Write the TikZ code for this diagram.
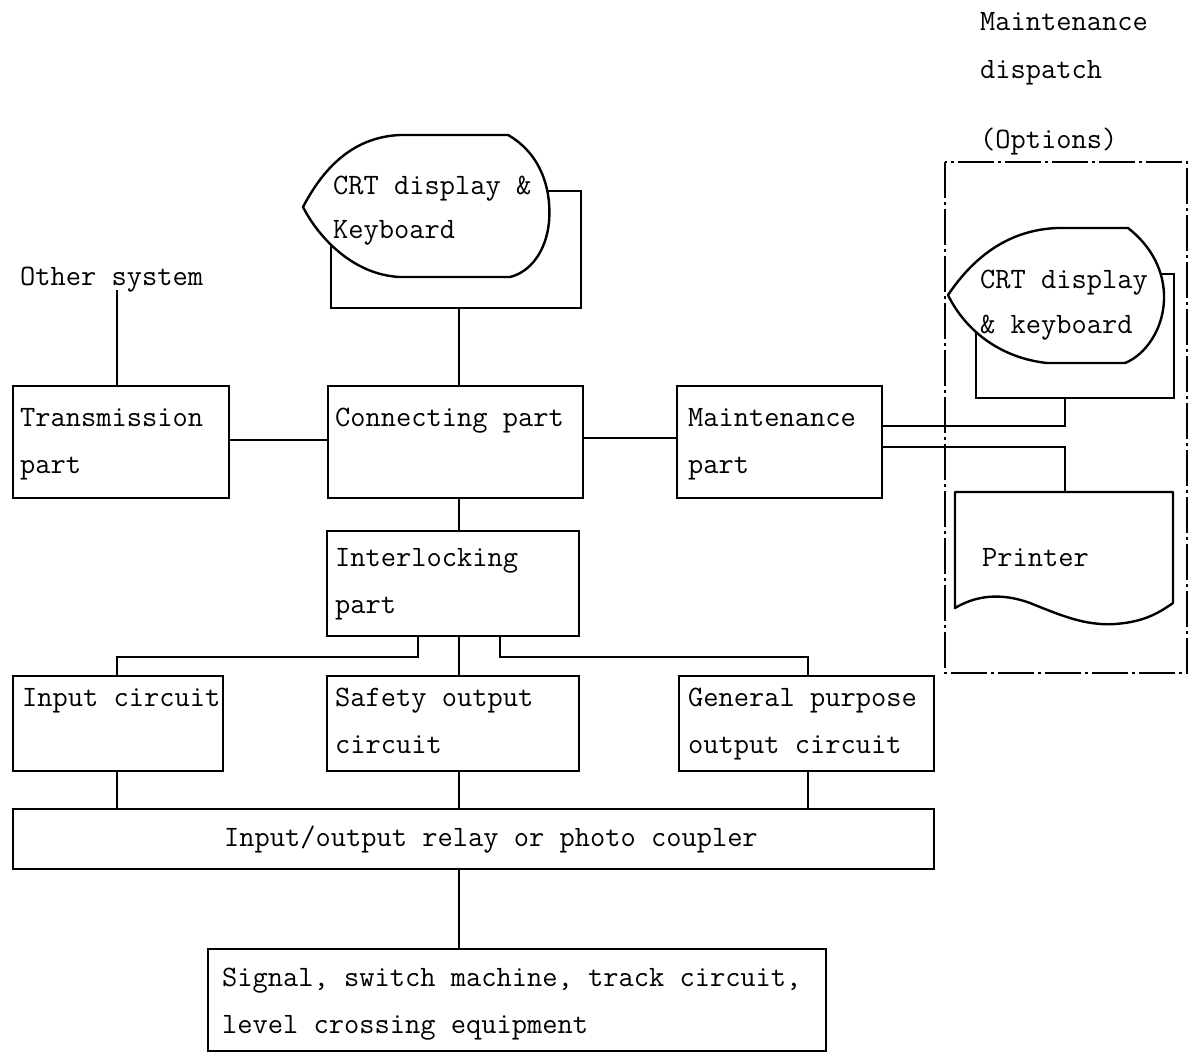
\documentclass[tikz,border=0pt]{standalone}
\usepackage{fontspec}
\usetikzlibrary{calc}
\begin{document}
\begin{tikzpicture}[x=1pt,y=-1pt,
  box/.style={draw, line width=2.4pt, inner sep=0pt, anchor=north west},
  wire/.style={line width=1.6pt},
  shapeline/.style={line width=2.4pt, fill=white, line join=round},
  optbox/.style={line width=1.6pt, dash pattern=on 36pt off 4pt on 3pt off 4pt},
  lbl/.style={anchor=base west, inner sep=0pt, font=\ttfamily\fontsize{29.6}{34}\selectfont},
]
\useasboundingbox (0,0) rectangle (1189,1053);

% ---------- boxes ----------
\node[box, minimum width=216pt, minimum height=112pt] (trans) at (12,385) {};
\node[box, minimum width=255pt, minimum height=112pt] (conn)  at (327,385) {};
\node[box, minimum width=205pt, minimum height=112pt] (maint) at (676,385) {};
\node[box, minimum width=252pt, minimum height=105pt] (inter) at (326,530) {};
\node[box, minimum width=210pt, minimum height=95pt]  (inp)   at (12,675) {};
\node[box, minimum width=252pt, minimum height=95pt]  (safe)  at (326,675) {};
\node[box, minimum width=255pt, minimum height=95pt]  (gen)   at (678,675) {};
\node[box, minimum width=921pt, minimum height=60pt]  (relay) at (12,808) {};
\node[box, minimum width=618pt, minimum height=102pt] (sig)   at (207,948) {};

% CRT 1 (back frame + display shape)
\node[box, minimum width=250pt, minimum height=117pt] (crt1) at (330,190) {};
\path[draw, shapeline] (303,207) .. controls (325,165) and (355,137) .. (400,135)
  -- (508,135) .. controls (538,152) and (552,185) .. (549,222)
  .. controls (546,252) and (530,272) .. (510,277) -- (400,277)
  .. controls (355,275) and (320,240) .. (303,207) -- cycle;

% Options region
\draw[optbox] (945,162) rectangle (1187,673);

% CRT 2
\node[box, minimum width=198pt, minimum height=124pt] (crt2) at (975,273) {};
\path[draw, shapeline] (948,295) .. controls (975,255) and (1010,230) .. (1057,228)
  -- (1128,228) .. controls (1150,245) and (1165,270) .. (1164,300)
  .. controls (1163,330) and (1145,355) .. (1125,363) -- (1047,363)
  .. controls (1000,358) and (965,330) .. (948,295) -- cycle;

% Printer
\coordinate (prn) at (1065,492);
\path[draw, shapeline] (955,492) -- (1173,492) -- (1173,603)
  .. controls (1160,612) and (1145,622) .. (1115,624)
  .. controls (1085,626) and (1060,615) .. (1030,603)
  .. controls (1000,592) and (975,596) .. (955,608) -- cycle;

% ---------- labels ----------
\node[lbl] (t-md1) at (980,30) {Maintenance};
\node[lbl] (t-md2) at (980,78) {dispatch};
\node[lbl] (t-opt) at (980,148) {(Options)};
\node[lbl] (t-oth) at (20,285) {Other system};
\node[lbl] (t-crt1a) at (333,194) {CRT display \&};
\node[lbl] (t-crt1b) at (333,238) {Keyboard};
\node[lbl] (t-crt2a) at (980,288) {CRT display};
\node[lbl] (t-crt2b) at (980,333) {\& keyboard};
\node[lbl] (t-tr1) at (20,426) {Transmission};
\node[lbl] (t-tr2) at (20,473) {part};
\node[lbl] (t-cn) at (335,426) {Connecting part};
\node[lbl] (t-mt1) at (688,426) {Maintenance};
\node[lbl] (t-mt2) at (688,473) {part};
\node[lbl] (t-prn) at (982,566) {Printer};
\node[lbl] (t-il1) at (335,566) {Interlocking};
\node[lbl] (t-il2) at (335,613) {part};
\node[lbl] (t-in) at (22,706) {Input circuit};
\node[lbl] (t-sf1) at (335,706) {Safety output};
\node[lbl] (t-sf2) at (335,753) {circuit};
\node[lbl] (t-gn1) at (688,706) {General purpose};
\node[lbl] (t-gn2) at (688,753) {output circuit};
\node[lbl] (t-rl) at (224,846) {Input/output relay or photo coupler};
\node[lbl] (t-sg1) at (222,986) {Signal, switch machine, track circuit,};
\node[lbl] (t-sg2) at (222,1033) {level crossing equipment};

% ---------- connectors ----------
\coordinate (othx) at (117,290);
\coordinate (spine) at (459,0);
\coordinate (lbr) at (418,657);
\coordinate (rbr) at (500,657);
\coordinate (inx) at (117,0);
\coordinate (gnx) at (808,0);
\coordinate (optx) at (1065,0);

\draw[wire] (othx) -- (othx |- trans.north);
\draw[wire] (trans.east |- 0,440) -- (conn.west |- 0,440);
\draw[wire] (conn.east |- 0,438) -- (maint.west |- 0,438);
\draw[wire] (crt1.south -| spine) -- (conn.north -| spine);
\draw[wire] (conn.south -| spine) -- (inter.north -| spine);
\draw[wire] (inter.south -| spine) -- (safe.north -| spine);
\draw[wire] (inter.south -| lbr) -- (lbr) -| (inp.north -| inx);
\draw[wire] (inter.south -| rbr) -- (rbr) -| (gen.north -| gnx);
\draw[wire] (inp.south -| inx) -- (relay.north -| inx);
\draw[wire] (safe.south -| spine) -- (relay.north -| spine);
\draw[wire] (gen.south -| gnx) -- (relay.north -| gnx);
\draw[wire] (relay.south -| spine) -- (sig.north -| spine);
\draw[wire] (maint.east |- 0,426) -| (crt2.south -| optx);
\draw[wire] (maint.east |- 0,447) -| (prn);
\end{tikzpicture}
\end{document}
